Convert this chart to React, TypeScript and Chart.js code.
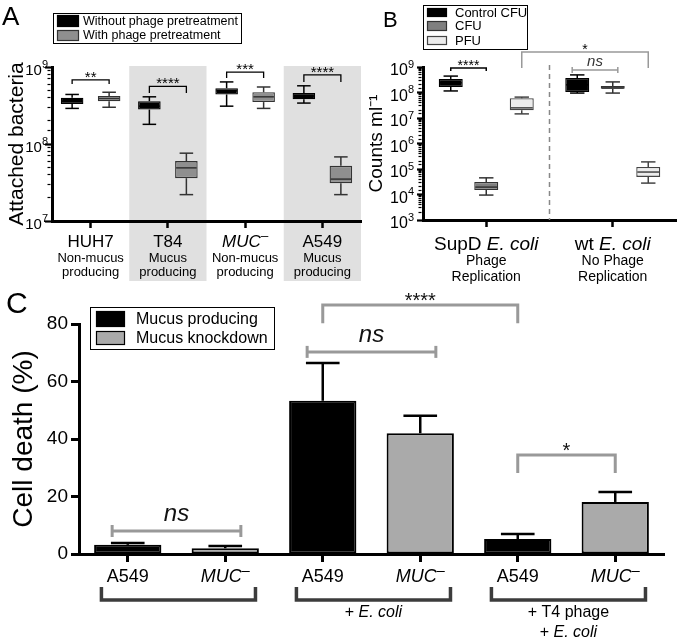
import React, { useEffect, useRef } from 'react';
import { Chart, registerables } from 'chart.js';

Chart.register(...registerables);

const FONT = "'Liberation Sans', Arial, Helvetica, sans-serif";

// ---------------- Panel A data ----------------
const A_CATEGORIES = ['HUH7', 'T84', 'MUC', 'A549'];
const A_ITALIC = [false, false, true, false];
const A_SUPER = ['', '', '–', ''];
const A_SUB1 = ['Non-mucus', 'Mucus', 'Non-mucus', 'Mucus'];
const A_SUB2 = ['producing', 'producing', 'producing', 'producing'];
const A_SHADED = [false, true, false, true];
const A_SERIES = ['Without phage pretreatment', 'With phage pretreatment'];
const A_WITHOUT_MIN = [2.9e8, 1.8e8, 3.1e8, 3.4e8];
const A_WITHOUT_Q1 = [3.3e8, 2.8e8, 4.4e8, 3.8e8];
const A_WITHOUT_MED = [3.6e8, 3.1e8, 4.9e8, 4.2e8];
const A_WITHOUT_Q3 = [4.0e8, 3.6e8, 5.3e8, 4.6e8];
const A_WITHOUT_MAX = [4.4e8, 4.1e8, 6.4e8, 5.7e8];
const A_WITH_MIN = [3.0e8, 2.2e7, 2.9e8, 2.2e7];
const A_WITH_Q1 = [3.6e8, 3.6e7, 3.5e8, 3.1e7];
const A_WITH_MED = [3.9e8, 4.9e7, 4.1e8, 3.5e7];
const A_WITH_Q3 = [4.2e8, 6.0e7, 4.7e8, 5.2e7];
const A_WITH_MAX = [4.7e8, 7.6e7, 5.5e8, 6.8e7];
const A_SIG_LABELS = ['**', '****', '***', '****'];
const A_SIG_TOP = [6.8e8, 5.6e8, 8.6e8, 7.9e8];
const A_SIG_END = [6.0e8, 4.6e8, 7.2e8, 6.4e8];
const A_Y_MIN = 1e7;
const A_Y_MAX = 1e9;
const A_Y_LABELS = [1e7, 1e8, 1e9];

// ---------------- Panel B data ----------------
const B_CATEGORIES = ['SupD E. coli', 'wt E. coli'];
const B_CAT_PREFIX = ['SupD ', 'wt '];
const B_CAT_ITALIC = ['E. coli', 'E. coli'];
const B_SUB1 = ['Phage', 'No Phage'];
const B_SUB2 = ['Replication', 'Replication'];
const B_SERIES = ['Control CFU', 'CFU', 'PFU'];
const B_CONTROL_MIN = [1.15e8, 9.5e7];
const B_CONTROL_Q1 = [1.65e8, 1.05e8];
const B_CONTROL_MED = [2.4e8, 2.0e8];
const B_CONTROL_Q3 = [3.4e8, 3.7e8];
const B_CONTROL_MAX = [4.4e8, 4.9e8];
const B_CFU_MIN = [9.5e3, 9.5e7];
const B_CFU_Q1 = [1.5e4, 1.4e8];
const B_CFU_MED = [1.95e4, 1.5e8];
const B_CFU_Q3 = [3.1e4, 1.8e8];
const B_CFU_MAX = [4.5e4, 2.6e8];
const B_PFU_MIN = [1.45e7, 2.8e4];
const B_PFU_Q1 = [2.0e7, 4.9e4];
const B_PFU_MED = [2.5e7, 7.6e4];
const B_PFU_Q3 = [6.0e7, 1.2e5];
const B_PFU_MAX = [6.6e7, 1.9e5];
const B_SIG_LABELS = ['****', '*', 'ns'];
const B_SIG_FROM = [[0, 0], [0, 2], [1, 0]];
const B_SIG_TO = [[0, 1], [1, 2], [1, 1]];
const B_SIG_TOP = [9.1e8, 3.9e9, 7.6e8];
const B_SIG_END = [6.9e8, 9.1e8, 7.6e8];
const B_SIG_CAPS = [false, false, true];
const B_SIG_COLOR = ['#000', '#999', '#999'];
const B_Y_MIN = 1e3;
const B_Y_MAX = 1e9;
const B_Y_LABELS = [1e3, 1e4, 1e5, 1e6, 1e7, 1e8, 1e9];

// ---------------- Panel C data ----------------
const C_CATEGORIES = ['A549', 'MUC', 'A549', 'MUC', 'A549', 'MUC'];
const C_ITALIC = [false, true, false, true, false, true];
const C_SUPER = ['', '–', '', '–', '', '–'];
const C_SERIES = ['Mucus producing', 'Mucus knockdown'];
const C_PRODUCING = [3.2, null, 53.3, null, 5.2, null];
const C_PRODUCING_ERR = [0.6, null, 13.1, null, 1.8, null];
const C_KNOCKDOWN = [null, 2.0, null, 42.0, null, 18.1];
const C_KNOCKDOWN_ERR = [null, 0.8, null, 6.1, null, 3.5];
const C_Y_TICKS = [0, 20, 40, 60, 80];
const C_GROUPS = [[0, 1], [2, 3], [4, 5]];
const C_GROUP_LINES = [
  [],
  [[['+ ', false], ['E. coli', true]]],
  [[['+ T4 phage', false]], [['+ ', false], ['E. coli', true]]],
];
const C_SIG_LABELS = ['ns', 'ns', '****', '*'];
const C_SIG_FROM = [0, 2, 2, 4];
const C_SIG_TO = [1, 3, 4, 5];
const C_SIG_TOP = [8.0, 70.3, 86.6, 34.4];
const C_SIG_END = [8.0, 70.3, 80.3, 28.2];
const C_SIG_CAPS = [true, true, false, false];

// ---------------- helpers ----------------
const fnt = (size: number, italic = false) => `${italic ? 'italic ' : ''}${size}px ${FONT}`;

function line(ctx: any, x1: number, y1: number, x2: number, y2: number) {
  ctx.beginPath();
  ctx.moveTo(x1, y1);
  ctx.lineTo(x2, y2);
  ctx.stroke();
}

// parts: [text, italic, superscript?]
function drawParts(ctx: any, parts: any[], cx: number, y: number, size: number, color = '#000') {
  ctx.save();
  ctx.fillStyle = color;
  ctx.textBaseline = 'alphabetic';
  ctx.textAlign = 'left';
  const sizeOf = (p: any) => (p[2] ? size * 0.8 : size);
  const widths = parts.map((p: any) => {
    ctx.font = fnt(sizeOf(p), p[1]);
    return ctx.measureText(p[0]).width;
  });
  const total = widths.reduce((a: number, b: number) => a + b, 0);
  let x = cx - total / 2;
  parts.forEach((p: any, k: number) => {
    ctx.font = fnt(sizeOf(p), p[1]);
    ctx.fillText(p[0], x, p[2] ? y - size * 0.4 : y);
    x += widths[k];
  });
  ctx.restore();
}

function labelParts(text: string, italic: boolean, sup: string) {
  const parts: any[] = [[text, italic]];
  if (sup) parts.push([sup, false, true]);
  return parts;
}

function drawPow10(ctx: any, value: number, rightX: number, py: number, size: number) {
  const exp = String(Math.round(Math.log10(value)));
  ctx.save();
  ctx.fillStyle = '#000';
  ctx.textBaseline = 'alphabetic';
  ctx.textAlign = 'right';
  ctx.font = fnt(Math.round(size * 0.7));
  const ew = ctx.measureText(exp).width;
  ctx.fillText(exp, rightX, py + size * 0.05);
  ctx.font = fnt(size);
  ctx.fillText('10', rightX - ew, py + size * 0.5);
  ctx.restore();
}

function drawLegend(ctx: any, box: number[], swX: number, swW: number, rows: number[][], labels: string[], fills: string[], strokes: string[], textX: number, size: number) {
  ctx.save();
  ctx.fillStyle = '#fff';
  ctx.fillRect(box[0], box[1], box[2], box[3]);
  ctx.strokeStyle = '#000';
  ctx.lineWidth = 1;
  ctx.strokeRect(box[0] + 0.5, box[1] + 0.5, box[2], box[3]);
  rows.forEach(([ry, rh], i) => {
    ctx.fillStyle = fills[i];
    ctx.fillRect(swX, ry, swW, rh);
    ctx.strokeStyle = strokes[i];
    ctx.lineWidth = 1.2;
    ctx.strokeRect(swX + 0.5, ry + 0.5, swW - 1, rh - 1);
    ctx.fillStyle = '#000';
    ctx.font = fnt(size);
    ctx.textAlign = 'left';
    ctx.textBaseline = 'middle';
    ctx.fillText(labels[i], textX, ry + rh / 2 + 0.5);
  });
  ctx.restore();
}

function drawBracket(ctx: any, x1: number, x2: number, yTop: number, yEnd: number, caps: boolean, color: string, width: number, capLen: number) {
  ctx.save();
  ctx.strokeStyle = color;
  ctx.lineWidth = width;
  ctx.lineJoin = 'miter';
  if (caps) {
    line(ctx, x1, yTop, x2, yTop);
    line(ctx, x1, yTop - capLen, x1, yTop + capLen);
    line(ctx, x2, yTop - capLen, x2, yTop + capLen);
  } else {
    ctx.beginPath();
    ctx.moveTo(x1, yEnd);
    ctx.lineTo(x1, yTop);
    ctx.lineTo(x2, yTop);
    ctx.lineTo(x2, yEnd);
    ctx.stroke();
  }
  ctx.restore();
}

function drawSigText(ctx: any, label: string, cx: number, yTop: number, size: number, nsDy: number, color: string) {
  const isNs = label === 'ns';
  ctx.save();
  ctx.fillStyle = color;
  ctx.font = fnt(size, isNs);
  ctx.textAlign = 'center';
  ctx.textBaseline = 'alphabetic';
  ctx.fillText(label, cx, isNs ? yTop - nsDy : yTop + 2);
  ctx.restore();
}

const isPow10 = (v: number) => {
  const l = Math.log10(v);
  return Math.abs(l - Math.round(l)) < 1e-6;
};

const boxPlugin = {
  id: 'boxWhisker',
  afterDatasetsDraw(chart: any) {
    const { ctx } = chart;
    const y = chart.scales.y;
    chart.data.datasets.forEach((ds: any, di: number) => {
      const b = ds.box;
      if (!b) return;
      const meta = chart.getDatasetMeta(di);
      meta.data.forEach((el: any, i: number) => {
        const { x, width } = el.getProps(['x', 'width'], true);
        const [q1, q3] = ds.data[i];
        const pMin = y.getPixelForValue(b.min[i]);
        const pMax = y.getPixelForValue(b.max[i]);
        const pQ1 = y.getPixelForValue(q1);
        const pQ3 = y.getPixelForValue(q3);
        const pMed = y.getPixelForValue(b.med[i]);
        const cap = width * 0.3;
        ctx.save();
        ctx.strokeStyle = b.whisker;
        ctx.lineWidth = 1.5;
        line(ctx, x, pQ3, x, pMax);
        line(ctx, x - cap, pMax, x + cap, pMax);
        line(ctx, x, pQ1, x, pMin);
        line(ctx, x - cap, pMin, x + cap, pMin);
        ctx.strokeStyle = b.median;
        line(ctx, x - width / 2 + 1, pMed, x + width / 2 - 1, pMed);
        ctx.restore();
      });
    });
  },
};

function boxDataset(label: string, fill: string, border: string, q1: number[], q3: number[], min: number[], med: number[], max: number[], whisker: string, median: string, catPct: number, barPct: number) {
  return {
    label,
    data: q1.map((v, i) => [v, q3[i]]),
    backgroundColor: fill,
    borderColor: border,
    borderWidth: 1.3,
    borderSkipped: false,
    categoryPercentage: catPct,
    barPercentage: barPct,
    box: { min, med, max, whisker, median },
  };
}

function logAxis(min: number, max: number, width: number, tickLen: number, minorLen: number, title: string, titleSize: number, titlePad: number) {
  return {
    type: 'logarithmic',
    min,
    max,
    ticks: { display: false },
    grid: {
      drawOnChartArea: false,
      tickLength: tickLen,
      tickColor: '#000',
      tickWidth: (c: any) => (c.tick && isPow10(c.tick.value) ? 2.2 : 1.2),
      tickBorderDash: (c: any) => (c.tick && isPow10(c.tick.value) ? [] : [minorLen, 100]),
      tickBorderDashOffset: (c: any) => (c.tick && isPow10(c.tick.value) ? 0 : -(tickLen - 1.5 - minorLen)),
    },
    border: { display: true, color: '#000', width: 3 },
    title: { display: true, text: title, color: '#000', font: { family: FONT, size: titleSize }, padding: { top: titlePad, bottom: 0 } },
    afterFit: (s: any) => { s.width = width; },
  };
}

function catAxis(height: number, tickLen: number, tickWidth: number) {
  return {
    type: 'category',
    offset: true,
    ticks: { display: false },
    grid: { drawOnChartArea: false, offset: false, tickLength: tickLen, tickWidth, tickColor: '#000' },
    border: { display: true, color: '#000', width: 3 },
    afterFit: (s: any) => { s.height = height; },
  };
}

// ---------------- Panel A ----------------
const panelAPlugin = {
  id: 'panelA',
  beforeDraw(chart: any) {
    const { ctx, chartArea } = chart;
    const x = chart.scales.x;
    const y = chart.scales.y;
    const half = (x.getPixelForValue(1) - x.getPixelForValue(0)) / 2;
    const top = y.getPixelForValue(A_Y_MAX) - 1;
    ctx.save();
    ctx.fillStyle = '#e0e0e0';
    A_SHADED.forEach((s, i) => {
      if (!s) return;
      const cx = x.getPixelForValue(i);
      ctx.fillRect(cx - half, top, half * 2, chartArea.bottom + 60 - top);
    });
    ctx.restore();
  },
  afterDraw(chart: any) {
    const { ctx, chartArea } = chart;
    const x = chart.scales.x;
    const y = chart.scales.y;
    ctx.save();
    ctx.fillStyle = '#000';
    ctx.font = fnt(26);
    ctx.textAlign = 'left';
    ctx.textBaseline = 'alphabetic';
    ctx.fillText('A', 2, 25);
    ctx.restore();
    A_Y_LABELS.forEach((v) => drawPow10(ctx, v, chartArea.left - 4, y.getPixelForValue(v), 15));
    A_CATEGORIES.forEach((c, i) => {
      const cx = x.getPixelForValue(i);
      drawParts(ctx, labelParts(c, A_ITALIC[i], A_SUPER[i]), cx, chartArea.bottom + 26, 17);
      drawParts(ctx, [[A_SUB1[i], false]], cx, chartArea.bottom + 41, 13);
      drawParts(ctx, [[A_SUB2[i], false]], cx, chartArea.bottom + 55, 13);
    });
    A_SIG_LABELS.forEach((lab, i) => {
      const x1 = chart.getDatasetMeta(0).data[i].x;
      const x2 = chart.getDatasetMeta(1).data[i].x;
      const yt = y.getPixelForValue(A_SIG_TOP[i]);
      const ye = y.getPixelForValue(A_SIG_END[i]);
      drawBracket(ctx, x1, x2, yt, ye, false, '#000', 1.3, 0);
      drawSigText(ctx, lab, (x1 + x2) / 2, yt, 15, 4, '#000');
    });
    drawLegend(ctx, [53, 13, 188, 30], 57, 22, [[15, 12], [30, 11]], A_SERIES, ['#000', '#8f8f8f'], ['#000', '#333'], 83, 12.5);
  },
};

const configA = () => ({
  type: 'bar',
  data: {
    labels: A_CATEGORIES,
    datasets: [
      boxDataset(A_SERIES[0], '#000', '#000', A_WITHOUT_Q1, A_WITHOUT_Q3, A_WITHOUT_MIN, A_WITHOUT_MED, A_WITHOUT_MAX, '#000', '#000', 0.958, 0.61),
      boxDataset(A_SERIES[1], '#8f8f8f', '#333', A_WITH_Q1, A_WITH_Q3, A_WITH_MIN, A_WITH_MED, A_WITH_MAX, '#333', '#333', 0.958, 0.61),
    ],
  },
  options: {
    responsive: false,
    animation: false,
    events: [],
    layout: { padding: { left: 0, right: 1, top: 67, bottom: 0 } },
    plugins: { legend: { display: false }, tooltip: { enabled: false } },
    scales: {
      x: catAxis(71, 7, 2.5),
      y: logAxis(A_Y_MIN, A_Y_MAX, 52, 7, 3, 'Attached bacteria', 21, 5),
    },
  },
  plugins: [panelAPlugin, boxPlugin],
});

// ---------------- Panel B ----------------
const panelBPlugin = {
  id: 'panelB',
  beforeDatasetsDraw(chart: any) {
    const { ctx, chartArea } = chart;
    const x = chart.scales.x;
    const mid = (x.getPixelForValue(0) + x.getPixelForValue(1)) / 2;
    ctx.save();
    ctx.strokeStyle = '#888';
    ctx.lineWidth = 1.5;
    ctx.setLineDash([5, 4]);
    line(ctx, mid, chartArea.top - 2, mid, chartArea.bottom);
    ctx.restore();
  },
  afterDraw(chart: any) {
    const { ctx, chartArea } = chart;
    const x = chart.scales.x;
    const y = chart.scales.y;
    ctx.save();
    ctx.fillStyle = '#000';
    ctx.font = fnt(22);
    ctx.textAlign = 'left';
    ctx.textBaseline = 'alphabetic';
    ctx.fillText('B', 21, 27);
    ctx.restore();
    B_Y_LABELS.forEach((v) => drawPow10(ctx, v, chartArea.left - 9, y.getPixelForValue(v), 16));
    B_CATEGORIES.forEach((_, i) => {
      const cx = x.getPixelForValue(i);
      drawParts(ctx, [[B_CAT_PREFIX[i], false], [B_CAT_ITALIC[i], true]], cx, chartArea.bottom + 30, 19);
      drawParts(ctx, [[B_SUB1[i], false]], cx, chartArea.bottom + 45, 14);
      drawParts(ctx, [[B_SUB2[i], false]], cx, chartArea.bottom + 61, 14);
    });
    const catW = x.getPixelForValue(1) - x.getPixelForValue(0);
    B_SIG_LABELS.forEach((lab, k) => {
      const [c1, s1] = B_SIG_FROM[k];
      const [c2, s2] = B_SIG_TO[k];
      const ext = B_SIG_CAPS[k] ? catW * 0.04 : 0;
      const x1 = chart.getDatasetMeta(s1).data[c1].x - ext;
      const x2 = chart.getDatasetMeta(s2).data[c2].x + ext;
      const yt = y.getPixelForValue(B_SIG_TOP[k]);
      const ye = y.getPixelForValue(B_SIG_END[k]);
      drawBracket(ctx, x1, x2, yt, ye, B_SIG_CAPS[k], B_SIG_COLOR[k], 1.5, 3);
      drawSigText(ctx, lab, (x1 + x2) / 2, yt, lab === 'ns' ? 15 : 14, 4, lab === 'ns' ? '#333' : '#000');
    });
    drawLegend(ctx, [61, 5, 104, 44], 65, 20, [[8, 9], [21, 10], [36, 9]], B_SERIES, ['#000', '#7f7f7f', '#ececec'], ['#000', '#333', '#444'], 93, 13);
  },
};

const configB = () => ({
  type: 'bar',
  data: {
    labels: B_CATEGORIES,
    datasets: [
      boxDataset(B_SERIES[0], '#000', '#000', B_CONTROL_Q1, B_CONTROL_Q3, B_CONTROL_MIN, B_CONTROL_MED, B_CONTROL_MAX, '#000', '#000', 0.842, 0.676),
      boxDataset(B_SERIES[1], '#7f7f7f', '#333', B_CFU_Q1, B_CFU_Q3, B_CFU_MIN, B_CFU_MED, B_CFU_MAX, '#333', '#333', 0.842, 0.676),
      boxDataset(B_SERIES[2], '#ececec', '#444', B_PFU_Q1, B_PFU_Q3, B_PFU_MIN, B_PFU_MED, B_PFU_MAX, '#444', '#444', 0.842, 0.676),
    ],
  },
  options: {
    responsive: false,
    animation: false,
    events: [],
    layout: { padding: { left: 0, right: 4, top: 67, bottom: 0 } },
    plugins: { legend: { display: false }, tooltip: { enabled: false } },
    scales: {
      x: catAxis(72, 7, 2.5),
      y: logAxis(B_Y_MIN, B_Y_MAX, 61, 6, 3, 'Counts ml⁻¹', 19, 3),
    },
  },
  plugins: [panelBPlugin, boxPlugin],
});

// ---------------- Panel C ----------------
const errPlugin = {
  id: 'errBars',
  afterDatasetsDraw(chart: any) {
    const { ctx } = chart;
    const y = chart.scales.y;
    chart.data.datasets.forEach((ds: any, di: number) => {
      const meta = chart.getDatasetMeta(di);
      meta.data.forEach((el: any, i: number) => {
        const v = ds.data[i];
        const e = ds.err[i];
        if (v == null || e == null) return;
        const { x, width } = el.getProps(['x', 'width'], true);
        const yv = y.getPixelForValue(v);
        const yt = y.getPixelForValue(v + e);
        ctx.save();
        ctx.strokeStyle = '#000';
        ctx.lineWidth = 2.5;
        line(ctx, x, yv, x, yt);
        line(ctx, x - width * 0.25, yt, x + width * 0.25, yt);
        ctx.restore();
      });
    });
  },
};

const panelCPlugin = {
  id: 'panelC',
  afterDraw(chart: any) {
    const { ctx, chartArea } = chart;
    const x = chart.scales.x;
    const y = chart.scales.y;
    const catW = x.getPixelForValue(1) - x.getPixelForValue(0);
    ctx.save();
    ctx.fillStyle = '#000';
    ctx.font = fnt(30);
    ctx.textAlign = 'left';
    ctx.textBaseline = 'alphabetic';
    ctx.fillText('C', 6, 21);
    ctx.restore();
    // category labels
    C_CATEGORIES.forEach((c, i) => {
      drawParts(ctx, labelParts(c, C_ITALIC[i], C_SUPER[i]), x.getPixelForValue(i), chartArea.bottom + 28, 18);
    });
    // group brackets and labels
    C_GROUPS.forEach(([a, b], g) => {
      const x1 = x.getPixelForValue(a) - catW * 0.27;
      const x2 = x.getPixelForValue(b) + catW * 0.31;
      const yh = chartArea.bottom + 46;
      ctx.save();
      ctx.strokeStyle = '#3c3c3c';
      ctx.lineWidth = 3.5;
      ctx.beginPath();
      ctx.moveTo(x1, chartArea.bottom + 33);
      ctx.lineTo(x1, yh);
      ctx.lineTo(x2, yh);
      ctx.lineTo(x2, chartArea.bottom + 33);
      ctx.stroke();
      ctx.restore();
      const lines: any = C_GROUP_LINES[g];
      lines.forEach((parts: any, li: number) => {
        drawParts(ctx, parts, (x1 + x2) / 2, chartArea.bottom + 63 + li * 20, 16);
      });
    });
    // significance
    C_SIG_LABELS.forEach((lab, k) => {
      const caps = C_SIG_CAPS[k];
      const ext = caps ? catW * 0.16 : 0;
      const x1 = x.getPixelForValue(C_SIG_FROM[k]) - ext;
      const x2 = x.getPixelForValue(C_SIG_TO[k]) + ext;
      const yt = y.getPixelForValue(C_SIG_TOP[k]);
      const ye = y.getPixelForValue(C_SIG_END[k]);
      drawBracket(ctx, x1, x2, yt, ye, caps, '#999', 3, 6);
      drawSigText(ctx, lab, (x1 + x2) / 2, yt, lab === 'ns' ? 24 : 20, 10, '#111');
    });
    drawLegend(ctx, [90, 15, 184, 42], 96, 29, [[19, 16], [39, 14]], C_SERIES, ['#000', '#aaaaaa'], ['#000', '#000'], 136, 16);
  },
};

const configC = () => ({
  type: 'bar',
  data: {
    labels: C_CATEGORIES,
    datasets: [
      { label: C_SERIES[0], data: C_PRODUCING, err: C_PRODUCING_ERR, backgroundColor: '#000', borderColor: '#000', borderWidth: 2, borderSkipped: false, grouped: false, categoryPercentage: 1, barPercentage: 0.69 },
      { label: C_SERIES[1], data: C_KNOCKDOWN, err: C_KNOCKDOWN_ERR, backgroundColor: '#aaaaaa', borderColor: '#000', borderWidth: 2, borderSkipped: false, grouped: false, categoryPercentage: 1, barPercentage: 0.69 },
    ],
  },
  options: {
    responsive: false,
    animation: false,
    events: [],
    layout: { padding: { left: 0, right: 16, top: 32, bottom: 0 } },
    plugins: { legend: { display: false }, tooltip: { enabled: false } },
    scales: {
      x: catAxis(87, 8, 3),
      y: {
        type: 'linear',
        min: C_Y_TICKS[0],
        max: C_Y_TICKS[C_Y_TICKS.length - 1],
        afterBuildTicks: (s: any) => { s.ticks = C_Y_TICKS.map((v) => ({ value: v })); },
        ticks: { color: '#000', padding: 3, font: { family: FONT, size: 19 } },
        grid: { drawOnChartArea: false, tickLength: 8, tickWidth: 3, tickColor: '#000' },
        border: { display: true, color: '#000', width: 3 },
        title: { display: true, text: 'Cell death (%)', color: '#000', font: { family: FONT, size: 28 }, padding: { top: 7, bottom: 0 } },
        afterFit: (s: any) => { s.width = 79; },
      },
    },
  },
  plugins: [panelCPlugin, errPlugin],
});

function ChartCanvas({ config, left, top, width, height }: any) {
  const ref = useRef<HTMLCanvasElement>(null);
  useEffect(() => {
    const chart = new Chart(ref.current as HTMLCanvasElement, config() as any);
    return () => chart.destroy();
  }, []);
  return (
    <canvas
      ref={ref}
      width={width}
      height={height}
      style={{ position: 'absolute', left, top, width, height }}
    />
  );
}

export default function App() {
  return (
    <div style={{ position: 'fixed', left: 0, top: 0, width: 680, height: 641, background: '#fff', overflow: 'hidden' }}>
      <ChartCanvas config={configA} left={0} top={0} width={362} height={292} />
      <ChartCanvas config={configB} left={362} top={0} width={318} height={292} />
      <ChartCanvas config={configC} left={0} top={292} width={680} height={349} />
    </div>
  );
}
